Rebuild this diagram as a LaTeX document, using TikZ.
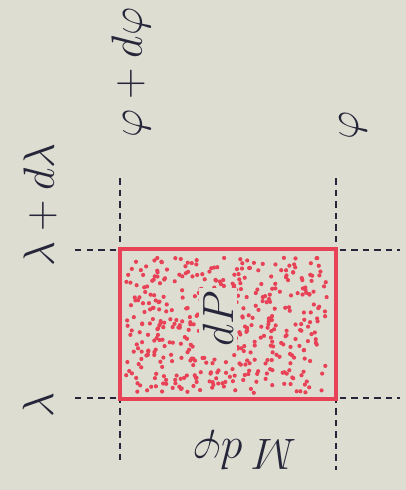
\documentclass[tikz,border=0pt]{standalone}
\usepackage{amsmath}
\usepackage{xcolor}
\usepackage{tikz}
\usetikzlibrary{positioning,calc}

\definecolor{paper}{RGB}{222,221,210}
\definecolor{pen}{RGB}{232,66,86}
\definecolor{ink}{RGB}{38,38,58}

\begin{document}
\begin{tikzpicture}[font=\Huge,
   grid/.style={ink,line width=1.1pt,dash pattern=on 0.13cm off 0.1cm},
   cell/.style={draw=pen,fill=paper,line width=1.5pt,minimum width=4.3cm,minimum height=2.98cm,inner sep=0pt},
   lab/.style={ink,rotate=90,inner sep=1pt}]
  \useasboundingbox (0,0) rectangle (8.12,-9.8);
  \fill[paper] (0,0) rectangle (8.12,-9.8);
  % grid lines
  \coordinate (v1t) at (2.4,-3.56);  \coordinate (v1b) at (2.4,-9.2);
  \coordinate (v2t) at (6.72,-3.56); \coordinate (v2b) at (6.72,-9.4);
  \coordinate (h1l) at (1.5,-5.0);   \coordinate (h1r) at (8.0,-5.0);
  \coordinate (h2l) at (1.5,-7.96);  \coordinate (h2r) at (8.0,-7.96);
  \draw[grid] (v1t) -- (v1b);
  \draw[grid] (v2t) -- (v2b);
  \draw[grid] (h1l) -- (h1r);
  \draw[grid] (h2l) -- (h2r);
  % the area element
  \node[cell] (dp) at (4.56,-6.48) {};
  \pgfmathsetseed{7}
  \foreach \i in {1,...,460}
    \fill[pen] ($(dp.south west)+(0.14+4.02*rnd,0.14+2.7*rnd)$) circle (0.042);
  \draw[pen,line width=1.5pt] (dp.south west) rectangle (dp.north east);
  \node[lab,fill=paper,inner sep=2pt] (dplab) at ($(dp.center)+(-0.2,0.1)$) {$dP$};
  % labels
  \node[lab] (lam) at (0.76,-8.1) {$\lambda$};
  \node[lab] (lamd) at (0.8,-4.1) {$\lambda + d\lambda$};
  \node[lab] (phid) at (2.62,-1.45) {$\varphi + d\varphi$};
  \node[lab] (phi) at (7.06,-2.5) {$\varphi$};
  \node[lab,rotate=90] (mdphi) at (4.9,-9.0) {$M\,d\varphi$};
\end{tikzpicture}
\end{document}
